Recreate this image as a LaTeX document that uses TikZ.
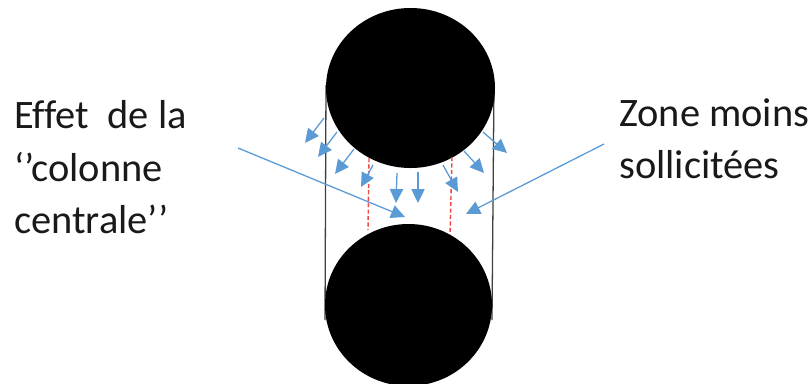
\documentclass[tikz,border=0pt]{standalone}
\usepackage{fontspec}
\setmainfont{Carlito}[Ligatures=NoCommon]
\usepackage{tikz}
\usetikzlibrary{positioning,arrows.meta,shapes.geometric}
\definecolor{flecheblue}{RGB}{91,155,213}
\definecolor{tiretred}{RGB}{240,70,70}

\begin{document}
\begin{tikzpicture}[
  x=0.03cm,y=-0.03cm,
  fil/.style={draw=black!75,line width=1.1pt},
  disque/.style={ellipse,fill=black,inner sep=0pt},
  fleche/.style={draw=flecheblue,line width=1.1pt,-{Triangle[length=0.42cm,width=0.4cm,fill=flecheblue]}},
  tiret/.style={draw=tiretred,line width=1.2pt,dash pattern=on 3.5pt off 2pt},
  texte/.style={anchor=north west,align=left,inner sep=0pt,text=black!90,font=\fontsize{34.5}{45}\selectfont}
]
\useasboundingbox (0,0) rectangle (810,383);
% montants
\coordinate (lh) at (326,85);
\coordinate (lb) at (325,320);
\coordinate (rh) at (494,85);
\coordinate (rb) at (492,320);
\draw[fil] (lh) -- (lb);
\draw[fil] (rh) -- (rb);
% disques
\node[disque,minimum width=5.07cm,minimum height=4.8cm] (haut) at (410.5,88) {};
\node[disque,minimum width=5.01cm,minimum height=4.86cm] (bas) at (408.5,305) {};
% zone centrale
\coordinate (ta) at (369,158);
\coordinate (tb) at (368,230);
\coordinate (tc) at (452,157);
\coordinate (td) at (450,235);
\draw[tiret] (ta) -- (tb);
\draw[tiret] (tc) -- (td);
% petites fleches
\foreach \xa/\ya/\xb/\yb in {324/118/305/143,337/132/318/157,354/149/335/174,373/165/361/187,
  397/173/396/203,418/172/418/203,443/165/458/192,464/151/484/173,483/132/507/153}
  \draw[fleche] (\xa,\ya) -- (\xb,\yb);
% textes
\node[texte] (effet) at (14,100) {Effet\ \ de la\\‘’colonne\\centrale’’};
\node[texte] (zone) at (619,98) {Zone moins\\sollicitées};
% renvois
\coordinate (fa) at (238,148);
\coordinate (fb) at (405,217);
\coordinate (fc) at (604,144);
\coordinate (fd) at (466,214);
\draw[fleche] (fa) -- (fb);
\draw[fleche] (fc) -- (fd);
\end{tikzpicture}
\end{document}
